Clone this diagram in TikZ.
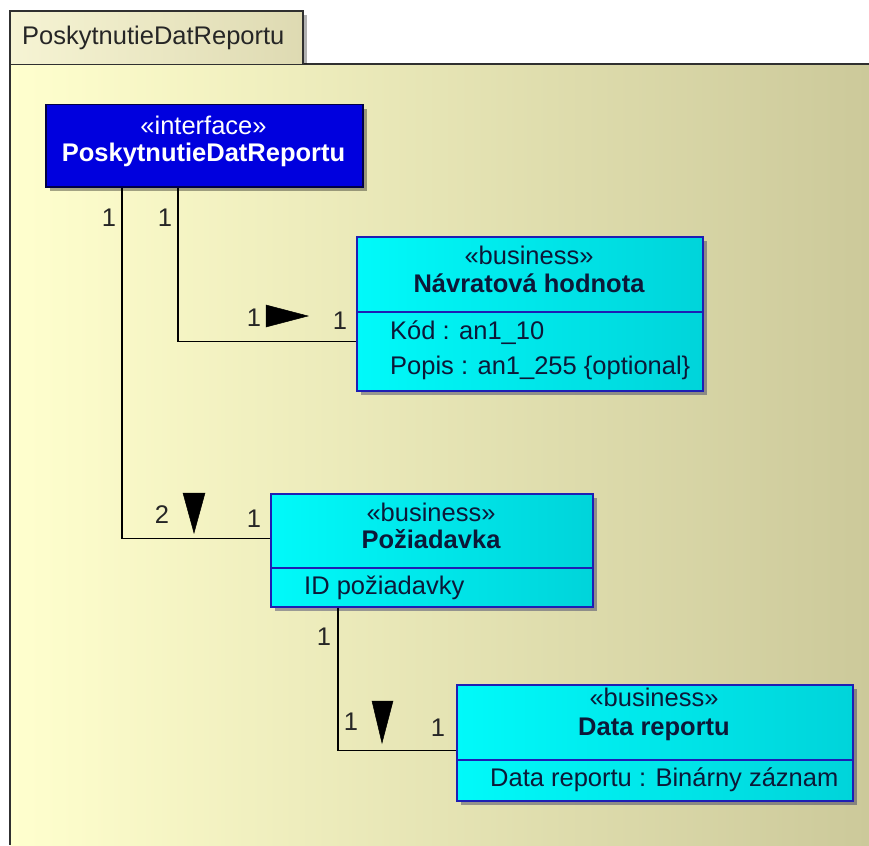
\documentclass[tikz,border=0pt]{standalone}
\usepackage{fontspec}
\setmainfont{Liberation Sans}
\usetikzlibrary{shadows,calc}
\definecolor{bgL}{RGB}{255,255,206}
\definecolor{bgR}{RGB}{204,201,154}
\definecolor{tabL}{RGB}{246,244,212}
\definecolor{tabR}{RGB}{222,218,178}
\definecolor{frame}{RGB}{48,48,48}
\definecolor{ifill}{RGB}{0,0,222}
\definecolor{iborder}{RGB}{0,0,70}
\definecolor{bizL}{RGB}{0,250,250}
\definecolor{bizR}{RGB}{0,212,218}
\definecolor{bizB}{RGB}{30,30,180}
\definecolor{biztext}{RGB}{12,24,56}
\tikzset{
  txt/.style={font=\fontsize{25.5}{30}\selectfont, inner sep=0pt},
  btxt/.style={txt, font=\fontsize{25.5}{30}\selectfont\bfseries},
  ifacebox/.style={draw=iborder, line width=1.5pt, fill=ifill, anchor=north west, inner sep=0pt,
    drop shadow={shadow xshift=4pt, shadow yshift=-4pt, fill=black, opacity=0.35}},
  bizbox/.style={draw=bizB, line width=1.5pt, left color=bizL, right color=bizR, anchor=north west, inner sep=0pt,
    drop shadow={shadow xshift=4pt, shadow yshift=-4pt, fill=black!70!blue, opacity=0.35}},
  conn/.style={draw=black, line width=1.8pt},
  mult/.style={txt, text=black!85},
  navarrow/.style={fill=black, draw=black, line width=0.5pt}
}
\begin{document}
\begin{tikzpicture}[x=1pt, y=-1pt]
\useasboundingbox (0,0) rectangle (869,845);
\fill[white] (0,0) rectangle (869,845);
% package body
\shade[left color=bgL, right color=bgR] (10,64) rectangle (869,845);
\draw[frame, line width=2pt] (869,64) -- (10,64) -- (10,845);
% tab
\fill[black, opacity=0.3] (14,15) rectangle (307,64);
\shade[left color=tabL, right color=tabR] (10,11) rectangle (303,64);
\draw[frame, line width=2pt] (10,64) -- (10,11) -- (303,11) -- (303,64);
\node[txt, text=black!85, anchor=west] (tabtext) at (22,38) {PoskytnutieDatReportu};

% interface
\node[ifacebox, minimum width=317pt, minimum height=82pt] (iface) at (45,104) {};
\node[txt, text=white] (istereo) at (203.5,125) {«interface»};
\node[btxt, text=white] (iname) at (203.5,155) {PoskytnutieDatReportu};

% Navratova hodnota
\node[bizbox, minimum width=346pt, minimum height=154pt] (nav) at (356,236) {};
\draw[bizB, line width=1.5pt] ($(nav.north west)+(0,-76pt)$) coordinate (navd) -- (navd -| nav.east);
\node[txt, text=biztext] (navst) at (529,255) {«business»};
\node[btxt, text=biztext] (navname) at (529,283) {Návratová hodnota};
\node[txt, text=biztext, anchor=west] (nava1) at (390,333) {Kód : an1\_10};
\node[txt, text=biztext, anchor=west] (nava2) at (390,368) {Popis : an1\_255 \{optional\}};

% Poziadavka
\node[bizbox, minimum width=322pt, minimum height=113pt] (poz) at (270,493) {};
\draw[bizB, line width=1.5pt] ($(poz.north west)+(0,-75pt)$) coordinate (pozd) -- (pozd -| poz.east);
\node[txt, text=biztext] (pozst) at (431,512) {«business»};
\node[btxt, text=biztext] (pozname) at (431,539) {Požiadavka};
\node[txt, text=biztext, anchor=west] (poza1) at (304,588) {ID požiadavky};

% Data reportu
\node[bizbox, minimum width=396pt, minimum height=116pt] (dat) at (456,684) {};
\draw[bizB, line width=1.5pt] ($(dat.north west)+(0,-76pt)$) coordinate (datd) -- (datd -| dat.east);
\node[txt, text=biztext] (datst) at (654,697) {«business»};
\node[btxt, text=biztext] (datname) at (654,729) {Data reportu};
\node[txt, text=biztext, anchor=west] (data1) at (490,780) {Data reportu : Binárny záznam};

% connectors
\draw[conn] ([xshift=133pt]iface.south west) |- ([yshift=50pt]nav.south west);
\draw[conn] ([xshift=77pt]iface.south west) |- ([yshift=69pt]poz.south west);
\draw[conn] ([xshift=68pt]poz.south west) |- ([yshift=51pt]dat.south west);

% multiplicities
\node[mult] (m1) at (109,218) {1};
\node[mult] (m2) at (165,218) {1};
\node[mult] (m3) at (254,318) {1};
\node[mult] (m4) at (340,321) {1};
\node[mult] (m5) at (162,515) {2};
\node[mult] (m6) at (254,519) {1};
\node[mult] (m7) at (324,637) {1};
\node[mult] (m8) at (351,722) {1};
\node[mult] (m9) at (438,728) {1};

% navigation arrows
\filldraw[navarrow] (266,305) -- (266,327) -- (308,316) -- cycle;
\filldraw[navarrow] (183,493) -- (205,493) -- (194,533) -- cycle;
\filldraw[navarrow] (372,701) -- (393,701) -- (382,743) -- cycle;
\end{tikzpicture}
\end{document}
